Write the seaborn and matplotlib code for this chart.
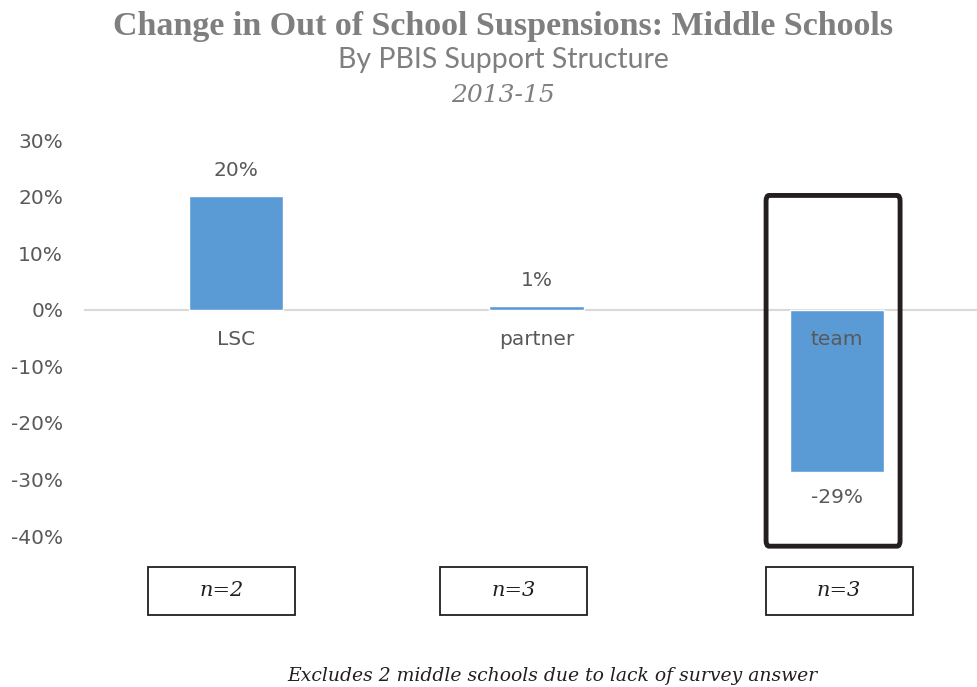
import matplotlib
matplotlib.use("Agg")
import matplotlib.pyplot as plt
import matplotlib.transforms as mtransforms
from matplotlib.patches import Rectangle, FancyBboxPatch
import seaborn as sns

categories = ["LSC", "partner", "team"]
changes = [0.201, 0.007, -0.287]
value_labels = ["20%", "1%", "-29%"]
n_labels = ["n=2", "n=3", "n=3"]
yticks = [0.3, 0.2, 0.1, 0.0, -0.1, -0.2, -0.3, -0.4]

bar_color = "#5B9BD5"
text_gray = "#595959"
title_gray = "#7f7f7f"
sans = ["DejaVu Sans"]
serif_it = ["DejaVu Serif"]

sns.set_style("white")
plt.rcParams["font.family"] = sans

W, H = 977, 687
fig = plt.figure(figsize=(W / 100, H / 100), dpi=100)
ax = fig.add_axes([84 / W, (H - 536) / H, (W - 84) / W, (536 - 140) / H])

sns.barplot(x=categories, y=changes, color=bar_color, width=0.313,
            saturation=1, ax=ax, zorder=2)
ax.set_xlim(-0.506, 2.466)
ax.set_ylim(-0.4, 0.3)
ax.axhline(0, color="#d9d9d9", lw=1.5, zorder=1)

sns.despine(ax=ax, left=True, bottom=True)
ax.set_xticks([])
ax.set_yticks(yticks)
ax.set_yticklabels([f"{v:.0%}" for v in yticks], fontsize=14.5, color=text_gray)
ax.tick_params(axis="y", length=0, pad=15)

for i, (cat, v, lab) in enumerate(zip(categories, changes, value_labels)):
    ax.text(i, -0.053, cat, ha="center", va="center", fontsize=14.5,
            color=text_gray, zorder=3)
    off = 0.045 if v >= 0 else -0.045
    ax.text(i, v + off, lab, ha="center", va="center", fontsize=14.5,
            color=text_gray, zorder=3)

# highlight box around "team"
hl = FancyBboxPatch((2 - 0.236, -0.418), 0.446, 0.62,
                    boxstyle="round,pad=0,rounding_size=0.01",
                    fill=False, ec="#231f20", lw=3.5, clip_on=False,
                    mutation_aspect=1, zorder=4)
ax.add_patch(hl)

# n= boxes below the axis
trans = mtransforms.blended_transform_factory(ax.transData, fig.transFigure)
box_w = 147 / 300.5
box_h = 48 / H
box_y = (H - 615) / H
for i, (lab, dx) in enumerate(zip(n_labels, [-0.047, -0.077, 0.007])):
    cx = i + dx
    ax.add_patch(Rectangle((cx - box_w / 2, box_y), box_w, box_h, transform=trans,
                           fill=False, ec="#231f20", lw=1.3, clip_on=False))
    ax.text(cx, box_y + box_h / 2, lab, transform=trans, ha="center", va="center",
            fontsize=15, style="italic", family=serif_it, color="#231f20")

# titles
fig.text(503 / W, 1 - 26 / H, "Change in Out of School Suspensions: Middle Schools",
         ha="center", va="center", fontsize=24.5, fontweight="bold",
         family=["Liberation Serif"], color=title_gray)
fig.text(503 / W, 1 - 60 / H, "By PBIS Support Structure", ha="center", va="center",
         fontsize=20.5, family=["Lato"], color=title_gray)
fig.text(503 / W, 1 - 95 / H, "2013-15", ha="center", va="center", fontsize=18,
         style="italic", family=serif_it, color=title_gray)
fig.text(552 / W, 1 - 676 / H, "Excludes 2 middle schools due to lack of survey answer",
         ha="center", va="center", fontsize=13.5, style="italic", family=serif_it,
         color="#231f20")

fig.savefig("out.png", dpi=100)
